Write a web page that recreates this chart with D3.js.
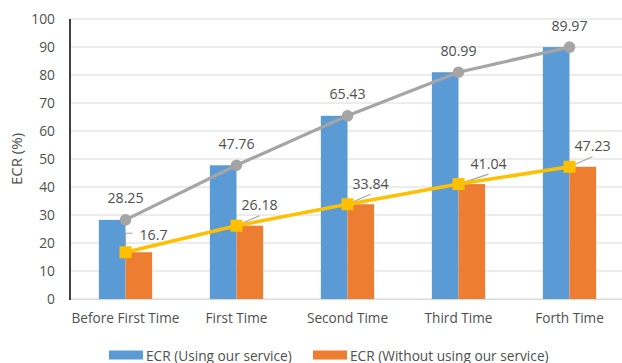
<!DOCTYPE html>
<html>
<head>
<meta charset="utf-8">
<script src="https://cdn.jsdelivr.net/npm/d3@7/dist/d3.min.js"></script>
<style>
  html, body { margin: 0; padding: 0; background: #fff; }
  svg { display: block; }
  text { font-family: "Open Sans", "Liberation Sans", sans-serif; fill: #4f4f4f; }
</style>
</head>
<body>
<svg id="chart" width="622" height="363"></svg>
<script>
// ECR over successive visits, with and without the service
const categories = ["Before First Time", "First Time", "Second Time", "Third Time", "Forth Time"];
const withService = [28.25, 47.76, 65.43, 80.99, 89.97];
const withoutService = [16.7, 26.18, 33.84, 41.04, 47.23];
const yTicks = [0, 10, 20, 30, 40, 50, 60, 70, 80, 90, 100];
const seriesNames = ["ECR (Using our service)", "ECR (Without using our service)"];

const colors = { blue: "#5B9BD5", orange: "#ED7D31", gray: "#A5A5A5", gold: "#FFC000", grid: "#D9D9D9", text: "#4f4f4f" };

const svg = d3.select("#chart");
const W = 622, H = 363;
const plotL = 70, plotR = 625, plotT = 19, plotB = 299;

const x0 = d3.scaleBand().domain(categories).range([plotL, plotR]).paddingInner(0.52).paddingOuter(0.26);
const x1 = d3.scaleBand().domain([0, 1]).range([0, x0.bandwidth()]);
const y = d3.scaleLinear().domain([0, 100]).range([plotB, plotT]);
const cx = c => x0(c) + x0.bandwidth() / 2;

// Gridlines
svg.append("g").selectAll("line").data(yTicks).join("line")
  .attr("x1", plotL).attr("x2", W)
  .attr("y1", d => y(d)).attr("y2", d => y(d))
  .attr("stroke", colors.grid).attr("stroke-width", 1.2);

// Y axis with tick labels
const yAxis = d3.axisLeft(y).tickValues(yTicks).tickSize(0).tickPadding(15);
const yg = svg.append("g").attr("transform", `translate(${plotL},0)`).call(yAxis);
yg.select(".domain").remove();
yg.selectAll("text").attr("font-size", "13.8px").attr("fill", colors.text)
  .style("font-family", '"Open Sans", sans-serif');

// Bars
const rows = categories.map((c, i) => ({ c, vals: [withService[i], withoutService[i]] }));
const barColors = [colors.blue, colors.orange];
svg.append("g").selectAll("g").data(rows).join("g")
  .attr("transform", d => `translate(${x0(d.c)},0)`)
  .selectAll("rect").data(d => d.vals.map((v, k) => ({ v, k }))).join("rect")
  .attr("x", d => x1(d.k)).attr("width", x1.bandwidth())
  .attr("y", d => y(d.v)).attr("height", d => y(0) - y(d.v))
  .attr("fill", d => barColors[d.k]);

// Axis lines
svg.append("line").attr("x1", plotL).attr("x2", W).attr("y1", plotB + 0.5).attr("y2", plotB + 0.5)
  .attr("stroke", colors.grid).attr("stroke-width", 1.2);
svg.append("line").attr("x1", plotL).attr("x2", plotL).attr("y1", plotT).attr("y2", plotB + 1)
  .attr("stroke", "#404040").attr("stroke-width", 2);

// Category labels
const xAxis = d3.axisBottom(x0).tickSize(0).tickPadding(14);
const xg = svg.append("g").attr("transform", `translate(0,${plotB})`).call(xAxis);
xg.select(".domain").remove();
xg.selectAll("text").attr("font-size", "13.6px").attr("fill", colors.text)
  .style("font-family", '"Open Sans", sans-serif');

// Lines
const line = d3.line().x(d => cx(d.c)).y(d => y(d.v));
const grayPts = categories.map((c, i) => ({ c, v: withService[i] }));
const goldPts = categories.map((c, i) => ({ c, v: withoutService[i] }));

// Leader lines for the lower series labels
const lower = svg.append("g");
goldPts.forEach((p, i) => {
  const px = cx(p.c), py = y(p.v);
  if (i === 0) {
    lower.append("path")
      .attr("d", `M${px},${py} V${py - 19} H${px + 7}`)
      .attr("fill", "none").attr("stroke", colors.gray).attr("stroke-width", 1.2);
  } else {
    const nudge = i === 3 ? 12 : 5;
    const lx = px + nudge + 18;
    lower.append("line").attr("x1", px).attr("y1", py).attr("x2", lx).attr("y2", py - 10)
      .attr("stroke", colors.gray).attr("stroke-width", 1.2);
  }
});

svg.append("path").datum(grayPts).attr("d", line)
  .attr("fill", "none").attr("stroke", colors.gray).attr("stroke-width", 3.2);
svg.append("path").datum(goldPts).attr("d", line)
  .attr("fill", "none").attr("stroke", colors.gold).attr("stroke-width", 3.5);

svg.append("g").selectAll("circle").data(grayPts).join("circle")
  .attr("cx", d => cx(d.c)).attr("cy", d => y(d.v)).attr("r", 5.8)
  .attr("fill", colors.gray);
svg.append("g").selectAll("rect").data(goldPts).join("rect")
  .attr("x", d => cx(d.c) - 6).attr("y", d => y(d.v) - 6)
  .attr("width", 12).attr("height", 12).attr("fill", colors.gold);

// Value labels
svg.append("g").selectAll("text").data(grayPts).join("text")
  .attr("x", d => cx(d.c)).attr("y", d => y(d.v) - 22)
  .attr("text-anchor", "middle").attr("dominant-baseline", "central")
  .attr("font-size", "14.2px").text(d => d.v);

svg.append("g").selectAll("text").data(goldPts).join("text")
  .attr("x", (d, i) => cx(d.c) + (i === 0 ? 14 : i === 3 ? 12 : 5))
  .attr("y", (d, i) => y(d.v) - (i === 0 ? 18 : 21))
  .attr("text-anchor", "start").attr("dominant-baseline", "central")
  .attr("font-size", "14.2px").text(d => d.v);

// Y axis title
svg.append("text").attr("transform", `translate(16,${(plotT + plotB) / 2}) rotate(-90)`)
  .attr("text-anchor", "middle").attr("dominant-baseline", "central")
  .attr("font-size", "15px").text("ECR (%)");

// Legend
const legendItems = [
  { name: seriesNames[0], color: colors.blue, x: 109 },
  { name: seriesNames[1], color: colors.orange, x: 313 }
];
const lg = svg.append("g").selectAll("g").data(legendItems).join("g")
  .attr("transform", d => `translate(${d.x},355)`);
lg.append("rect").attr("x", 0).attr("y", -4.5).attr("width", 34).attr("height", 9).attr("fill", d => d.color);
lg.append("text").attr("x", 37).attr("y", 0).attr("dominant-baseline", "central")
  .attr("font-size", "13.7px").text(d => d.name);
</script>
</body>
</html>
